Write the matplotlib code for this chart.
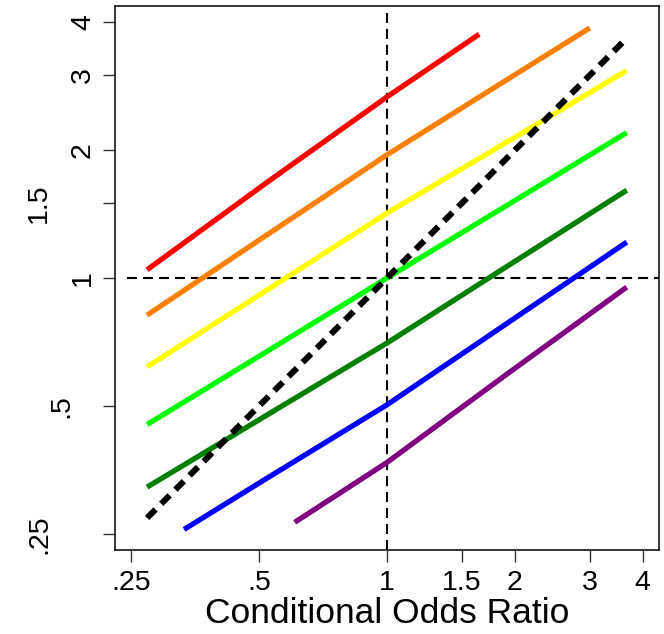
import matplotlib
matplotlib.use("Agg")
import matplotlib.pyplot as plt
import matplotlib.transforms as mtransforms

plt.rcParams['font.family'] = ['Liberation Sans', 'DejaVu Sans']
plt.rcParams['lines.scale_dashes'] = False

# ---- data ----
x_red = [0.2725, 0.522, 1.0, 1.649]
y_red = [1.046, 1.68, 2.67, 3.75]

x_orange = [0.2725, 0.522, 1.0, 1.916, 3.004]
y_orange = [0.818, 1.264, 1.95, 2.93, 3.88]

x_yellow = [0.2725, 0.522, 1.0, 1.916, 3.669]
y_yellow = [0.618, 0.937, 1.422, 2.09, 3.08]

x_lime = [0.2725, 0.522, 1.0, 1.916, 3.669]
y_lime = [0.452, 0.672, 1.0, 1.483, 2.20]

x_dkgreen = [0.2725, 0.522, 1.0, 1.916, 3.669]
y_dkgreen = [0.322, 0.476, 0.703, 1.065, 1.61]

x_blue = [0.333, 0.522, 1.0, 1.916, 3.669]
y_blue = [0.256, 0.338, 0.503, 0.782, 1.215]

x_purple = [0.6065, 1.0, 1.916, 3.669]
y_purple = [0.266, 0.368, 0.594, 0.952]

x_diag = [0.2725, 3.669]
y_diag = [0.2725, 3.669]

tick_vals = [0.25, 0.5, 1, 1.5, 2, 3, 4]
tick_labels = [".25", ".5", "1", "1.5", "2", "3", "4"]
ytick_vals = [0.25, 0.5, 1, 1.5, 2, 3, 4]
ytick_labels = [".25", ".5", "1", "1.5", "2", "3", "4"]
xlabel = "Conditional Odds Ratio"

series = [
    (x_red, y_red, "#FF0000"),
    (x_orange, y_orange, "#FF8000"),
    (x_yellow, y_yellow, "#FFFF00"),
    (x_lime, y_lime, "#00FF00"),
    (x_dkgreen, y_dkgreen, "#008000"),
    (x_blue, y_blue, "#0000FF"),
    (x_purple, y_purple, "#800080"),
]

W, H = 664, 634
fig = plt.figure(figsize=(W / 100, H / 100), dpi=100)
ax = fig.add_axes([115 / W, 1 - 550 / H, 544 / W, 544 / H])
ax.set_xscale('log')
ax.set_yscale('log')
lim = (0.229, 4.37)
ax.set_xlim(*lim)
ax.set_ylim(*lim)

# reference lines
ax.plot([0.245, lim[1]], [1, 1], color='black', lw=1.5,
        dashes=(7.2, 4.3), dash_capstyle='butt', zorder=1)
ax.plot([1, 1], [lim[0], 4.2], color='black', lw=1.5,
        dashes=(7.2, 4.3), dash_capstyle='butt', zorder=1)

for xs, ys, c in series:
    ax.plot(xs, ys, color=c, lw=3.8, solid_capstyle='butt',
            solid_joinstyle='round', zorder=2)

ax.plot(x_diag, y_diag, color='black', lw=4.4, dashes=(8.6, 5.8),
        dash_capstyle='butt', zorder=3)

ax.minorticks_off()
ax.set_xticks(tick_vals)
ax.set_xticklabels(tick_labels)
ax.set_yticks(ytick_vals)
ax.set_yticklabels([])
ax.tick_params(axis='both', direction='out', length=8.6, width=1.0,
               color='#333333')
ax.tick_params(axis='x', labelsize=20.5, pad=5.5)
for s in ax.spines.values():
    s.set_linewidth(1.1)
    s.set_color('black')

ax.set_xlabel(xlabel, fontsize=25.5, labelpad=1)

# rotated y tick labels placed like Stata (offset by unrotated string width)
trans = mtransforms.blended_transform_factory(fig.transFigure, ax.transData)
for v, lab in zip(ytick_vals, ytick_labels):
    right_px = 96 - 22 * (len(lab) - 1)
    ax.text(right_px / W, v, lab, transform=trans, rotation=90,
            ha='right', va='center', fontsize=20.5)

fig.savefig("out.png", dpi=100)
